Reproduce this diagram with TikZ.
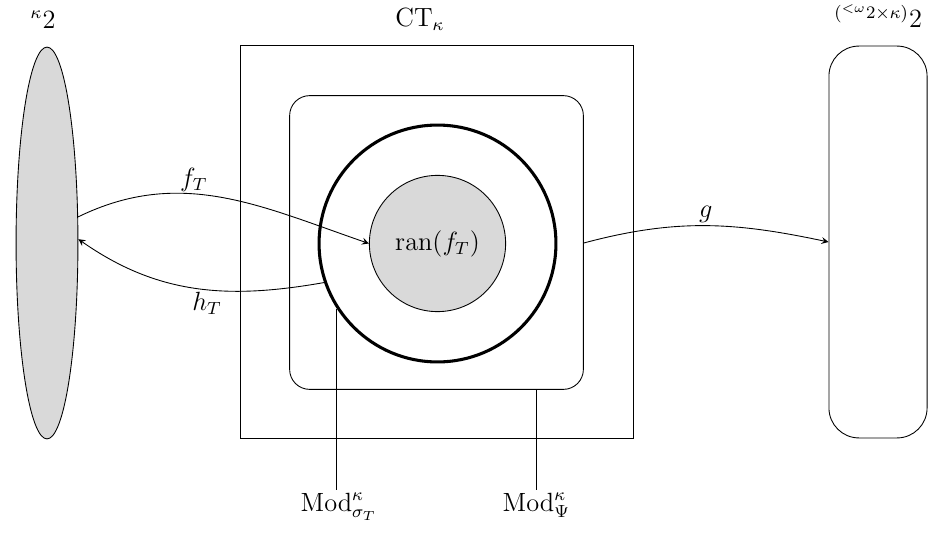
\documentclass[tikz,border=0pt]{standalone}
\usetikzlibrary{shapes.geometric}
\begin{document}
\begin{tikzpicture}[x=1cm,y=1cm,>=stealth,font=\large]
  \tikzstyle{setbox}=[draw, minimum width=6.29cm, minimum height=6.29cm, inner sep=0pt]
  \tikzstyle{lbl}=[inner sep=1pt]
  \useasboundingbox (0,0) rectangle (14.912,8.528);

  % Left space
  \node[ellipse, draw, fill=gray!30, minimum width=0.99cm, minimum height=6.27cm, inner sep=0pt] (lhs) at (0.752,4.64) {};
  \node[lbl] (lhslbl) at (0.69,8.21) {$^\kappa 2$};

  % Middle: theories
  \node[setbox] (ct) at (6.984,4.656) {};
  \node[lbl] (ctlbl) at (6.72,8.21) {$\mathrm{CT}_\kappa$};
  \node[draw, rounded corners=0.32cm, minimum width=4.70cm, minimum height=4.70cm, inner sep=0pt] (mid) at (6.984,4.648) {};
  \node[circle, draw, line width=1.4pt, minimum size=3.79cm, inner sep=0pt] (ring) at (7.0,4.632) {};
  \node[circle, draw, fill=gray!30, minimum size=2.18cm, inner sep=0pt] (ran) at (7.0,4.632) {$\mathrm{ran}(f_T)$};

  % Right space
  \node[draw, rounded corners=0.48cm, minimum width=1.57cm, minimum height=6.27cm, inner sep=0pt] (rhs) at (14.048,4.656) {};
  \node[lbl] (rhslbl) at (14.05,8.27) {$^{(^{<\omega}2\times\kappa)}2$};

  % Model classes
  \node[lbl, anchor=north] (modsig) at (5.42,0.69) {$\mathrm{Mod}^\kappa_{\sigma_T}$};
  \node[lbl, anchor=north] (modpsi) at (8.58,0.69) {$\mathrm{Mod}^\kappa_\Psi$};
  \draw (ring.213) -- (ring.213 |- modsig.north);
  \draw (modpsi.north |- mid.south) -- (modpsi.north);

  % Maps
  \draw[->] (lhs.40) to[out=26, in=161] node[lbl, above, pos=0.4] {$f_T$} (ran.west);
  \draw[->] (ring.199) to[out=190, in=-35] node[lbl, below, pos=0.45] {$h_T$} (lhs.7);
  \draw[->] (mid.east |- 0,4.64) to[out=15, in=168] node[lbl, above, pos=0.5] {$g$} (rhs.west);
\end{tikzpicture}
\end{document}
